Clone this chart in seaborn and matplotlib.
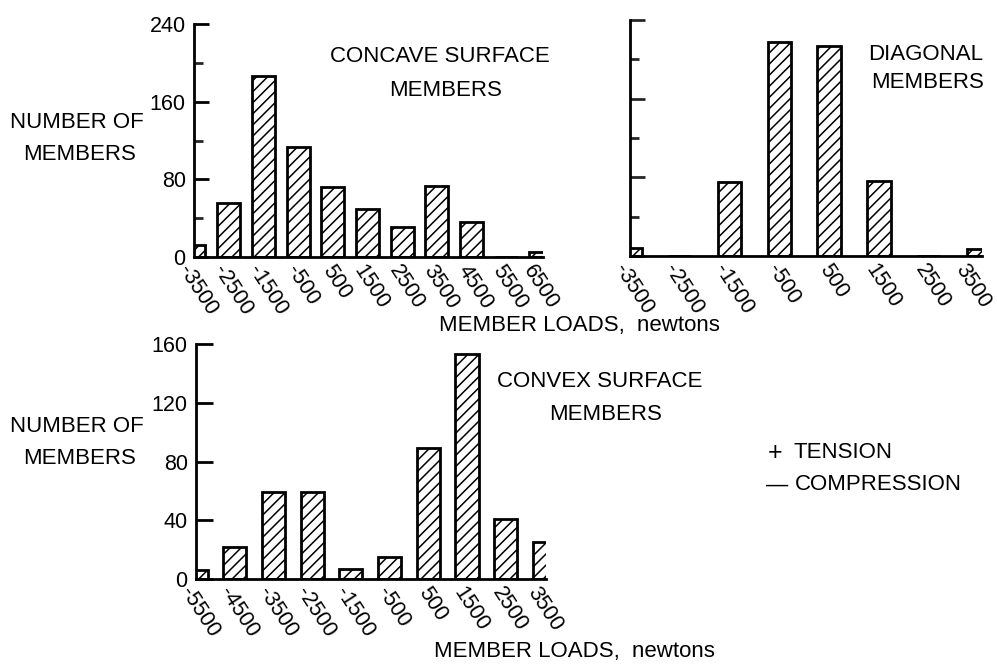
import matplotlib
matplotlib.use("Agg")
import matplotlib.pyplot as plt
from matplotlib.transforms import ScaledTranslation
import seaborn as sns

# Member load histograms (load class centres in newtons, counts of members)
concave_loads = ["-3500", "-2500", "-1500", "-500", "500", "1500", "2500",
                 "3500", "4500", "5500", "6500"]
concave_counts = [12, 56, 186, 113, 72, 49, 31, 73, 36, 0, 5]

diagonal_loads = ["-3500", "-2500", "-1500", "-500", "500", "1500", "2500", "3500"]
diagonal_counts = [8, 0, 75, 218, 214, 76, 0, 7]

convex_loads = ["-5500", "-4500", "-3500", "-2500", "-1500", "-500", "500",
                "1500", "2500", "3500"]
convex_counts = [6, 22, 59, 59, 7, 15, 89, 153, 41, 25]

top_yticks = [0, 80, 160, 240]
top_yminor = [40, 120, 200]
bottom_yticks = [0, 40, 80, 120, 160]

sns.set_theme(style="ticks")
plt.rcParams["font.family"] = ["Liberation Sans", "DejaVu Sans"]
plt.rcParams["hatch.linewidth"] = 1.1
plt.rcParams["hatch.color"] = "black"

TXT = 16
TICK = 15.5

W, H = 997, 666
fig = plt.figure(figsize=(W / 100, H / 100), dpi=100)
fig.patch.set_facecolor("white")


def px_axes(x0, x1, ytop, ybot):
    return fig.add_axes([x0 / W, (H - ybot) / H, (x1 - x0) / W, (ybot - ytop) / H])


def px_text(x, y, s, ha="center", size=TXT):
    fig.text(x / W, 1 - y / H, s, ha=ha, va="center", fontsize=size, color="black")


def shift(label, dx_px):
    label.set_transform(label.get_transform()
                        + ScaledTranslation(dx_px / 100, 0, fig.dpi_scale_trans))


def draw_hist(ax, loads, counts, width, xmax, ymax, last_shift=0):
    sns.barplot(x=loads, y=counts, color="white", saturation=1, width=width,
                edgecolor="black", linewidth=2.0, ax=ax)
    for bar in ax.patches:
        bar.set_hatch("///")
    ax.set_xlim(0, xmax)
    ax.set_ylim(0, ymax)
    ax.set_xlabel("")
    ax.set_ylabel("")
    ax.set_facecolor("white")
    for side in ("top", "right"):
        ax.spines[side].set_visible(False)
    for side in ("left", "bottom"):
        ax.spines[side].set_linewidth(2.0)
        ax.spines[side].set_color("black")
    ax.tick_params(axis="x", length=0, pad=3, labelsize=TICK, colors="black")
    labels = ax.get_xticklabels()
    for i, lab in enumerate(labels):
        lab.set_rotation(-57)
        lab.set_ha("center")
        lab.set_va("top")
        shift(lab, 4 if i < len(labels) - 1 else last_shift)


# Concave surface members
ax1 = px_axes(194, 543, 24, 257)
draw_hist(ax1, concave_loads, concave_counts, 0.66, 10.06, 240, last_shift=0)
ax1.set_yticks(top_yticks)
ax1.set_yticks(top_yminor, minor=True)
ax1.tick_params(axis="y", which="major", direction="in", length=11, width=2,
                pad=6, labelsize=TICK, colors="black")
ax1.tick_params(axis="y", which="minor", direction="in", length=6.5, width=2)

# Diagonal members (same count scale, unlabelled)
ax2 = px_axes(630, 982, 20, 256)
draw_hist(ax2, diagonal_loads, diagonal_counts, 0.47, 7.07, 240, last_shift=-6)
ax2.set_yticks(top_yticks)
ax2.set_yticks(top_yminor, minor=True)
ax2.tick_params(axis="y", which="major", direction="in", length=11, width=2,
                labelleft=False)
ax2.tick_params(axis="y", which="minor", direction="in", length=6.5, width=2)

# Convex surface members
ax3 = px_axes(196, 546, 344, 579)
draw_hist(ax3, convex_loads, convex_counts, 0.6, 9.04, 160, last_shift=0)
ax3.set_yticks(bottom_yticks)
ax3.tick_params(axis="y", which="major", direction="in", length=12, width=2,
                pad=6, labelsize=TICK, colors="black")

# Titles and labels
px_text(440, 56, "CONCAVE SURFACE")
px_text(446, 90, "MEMBERS")
px_text(926, 54, "DIAGONAL")
px_text(928, 82, "MEMBERS")
px_text(600, 382, "CONVEX SURFACE")
px_text(606, 415, "MEMBERS")

px_text(77, 122, "NUMBER OF")
px_text(80, 154, "MEMBERS")
px_text(77, 427, "NUMBER OF")
px_text(80, 459, "MEMBERS")

px_text(579, 325, "MEMBER LOADS,  newtons")
px_text(574, 651, "MEMBER LOADS,  newtons")

# Sign convention
px_text(775, 453, "+", size=TXT + 2)
px_text(793, 453, "TENSION", ha="left")
px_text(777, 485, "\u2014", size=TXT)
px_text(795, 485, "COMPRESSION", ha="left")

fig.savefig("out.png", dpi=100, facecolor="white")
